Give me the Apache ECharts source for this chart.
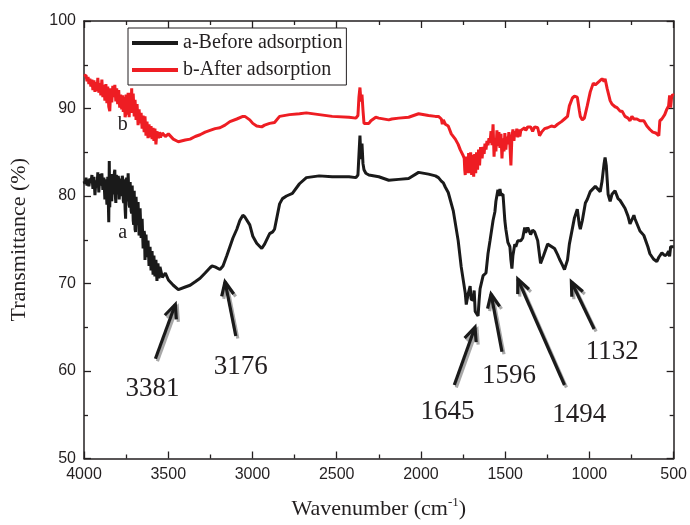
<!DOCTYPE html>
<html>
<head>
<meta charset="utf-8">
<style>
  html, body { margin: 0; padding: 0; background: #fff; }
  #chart { width: 690px; height: 525px; }
</style>
<script src="https://cdn.jsdelivr.net/npm/echarts@6/dist/echarts.min.js"></script>
</head>
<body>
<div id="chart"></div>
<script>
// FTIR spectra: [wavenumber (cm-1), transmittance (%)]
const spectrumBefore = [
  [4000,81.7],[3994,81.4],[3988,82.1],[3982,81.2],[3976,81.9],[3971,81.1],[3965,82.0],[3959,81.5],[3953,82.4],[3947,80.8],
  [3941,82.2],[3935,80.1],[3929,81.8],[3923,81.0],[3918,82.7],[3912,80.4],[3906,82.5],[3900,81.2],[3894,82.6],[3888,80.7],
  [3882,82.1],[3876,79.6],[3870,81.9],[3864,79.0],[3859,82.2],[3853,77.0],[3850,84.0],[3847,78.7],
  [3844,82.3],[3841,82.0],[3838,80.0],[3835,79.4],[3832,82.5],[3829,82.3],[3826,80.6],[3823,80.2],[3820,82.6],[3817,83.0],
  [3814,80.0],[3811,79.2],[3808,82.4],[3806,82.1],[3803,80.2],[3800,80.5],[3797,82.3],[3794,81.9],[3791,79.6],[3788,79.8],
  [3785,82.0],[3782,81.8],[3779,80.0],[3776,80.3],[3773,82.3],[3770,82.0],[3767,79.5],[3764,79.2],[3761,81.9],[3758,81.7],
  [3756,78.5],[3753,77.4],[3750,81.5],[3747,82.1],[3744,79.4],[3741,79.7],[3738,82.6],[3735,82.5],[3732,79.0],[3729,78.7],
  [3726,81.6],[3723,81.4],[3720,78.3],[3717,78.0],[3714,81.2],[3711,81.0],[3708,77.2],[3705,76.7],[3702,80.6],[3700,80.4],
  [3697,76.2],[3694,75.9],[3691,79.9],[3688,79.7],[3685,76.7],[3682,77.0],[3679,79.3],[3676,79.1],[3673,75.5],[3670,75.8],
  [3667,78.6],[3664,78.4],[3661,75.2],[3658,75.5],[3655,77.4],[3652,77.2],[3649,74.0],[3646,74.2],[3643,76.0],[3641,75.7],
  [3638,72.7],[3635,72.9],[3632,75.6],[3629,75.4],[3626,73.0],[3623,73.2],[3620,74.9],[3617,74.7],[3614,72.0],[3611,72.2],
  [3608,74.2],[3605,74.0],[3602,71.5],[3599,71.7],[3596,73.7],[3593,73.5],[3590,71.0],[3588,71.2],[3585,73.2],[3582,73.0],
  [3579,70.8],[3576,71.0],[3573,72.7],[3570,72.5],[3567,70.3],[3564,70.5],[3561,72.3],[3558,72.1],[3555,70.6],[3552,70.8],
  [3549,71.9],[3546,71.7],[3535,70.7],
  [3517,71.2],[3499,70.4],[3470,69.8],[3440,69.3],[3399,69.6],[3370,69.8],[3340,70.2],[3311,70.6],[3281,71.2],[3252,71.8],
  [3240,72.0],[3222,71.9],[3193,71.6],[3175,72.0],[3152,73.2],[3116,75.2],[3093,76.2],[3075,77.2],[3057,77.8],[3045,77.6],
  [3016,76.7],[2998,75.4],[2975,74.6],[2945,74.0],[2928,74.5],[2898,75.7],[2880,75.9],[2869,76.2],[2839,79.1],[2822,79.7],
  [2798,80.0],[2763,80.3],[2721,81.4],[2680,82.1],[2604,82.3],[2527,82.2],[2427,82.2],[2386,82.1],[2374,82.4],[2368,84.7],
  [2362,86.9],[2356,84.2],[2350,86.0],[2344,83.7],[2338,83.0],[2327,82.6],[2309,82.4],[2250,82.2],[2191,81.8],[2132,81.9],
  [2073,82.0],[2014,82.7],[1955,82.5],[1914,82.3],[1896,82.1],[1879,81.7],[1867,81.5],[1855,81.0],[1838,80.4],[1808,78.3],
  [1779,74.9],[1761,71.9],[1737,68.9],[1731,67.6],[1720,68.8],[1708,69.7],[1702,68.2],[1690,68.1],[1684,69.2],[1678,66.8],
  [1673,66.6],[1661,66.3],[1655,68.0],[1649,69.4],[1643,69.2],[1631,70.9],[1620,70.7],[1614,71.2],[1602,73.4],[1590,74.9],
  [1572,77.2],[1561,78.2],[1555,79.4],[1543,80.7],[1537,80.0],[1531,80.8],[1525,80.1],[1513,80.2],[1502,77.2],[1496,76.2],
  [1484,74.7],[1472,74.2],[1466,72.7],[1460,71.7],[1454,73.2],[1443,74.5],[1437,74.2],[1425,74.9],[1407,74.9],[1396,75.2],
  [1384,76.4],[1378,75.8],[1366,76.4],[1349,75.6],[1337,76.1],[1325,75.9],[1307,74.9],[1290,72.3],[1272,73.2],[1248,74.5],
  [1237,74.6],[1207,74.0],[1189,73.3],[1178,72.8],[1160,72.1],[1148,71.6],[1142,71.5],[1130,72.7],[1119,74.5],[1113,75.1],
  [1089,77.5],[1072,78.5],[1060,76.7],[1054,76.2],[1042,77.2],[1024,79.2],[1013,79.6],[995,80.5],[965,81.1],[954,81.1],
  [936,80.5],[925,81.7],[913,83.7],[907,84.4],[900,83.5],[889,80.2],[877,79.4],[866,80.2],[848,80.6],[830,79.7],
  [818,79.5],[789,78.6],[771,77.7],[759,76.8],[748,77.0],[736,77.8],[730,77.4],[700,76.0],[677,75.5],[653,74.2],
  [641,73.4],[620,72.8],[600,72.5],[588,73.0],[582,72.9],[570,73.5],[553,73.2],[541,73.3],[530,73.7],[524,73.1],
  [518,74.2],[512,74.3],[500,74.2]
];

const spectrumAfter = [
  [4000,93.7],[3994,93.5],[3988,93.8],[3982,93.1],[3976,93.6],[3971,92.8],[3965,93.4],[3959,92.5],[3953,93.3],[3947,92.1],
  [3941,93.2],[3935,91.9],[3929,93.0],[3923,92.0],[3918,93.5],[3912,91.8],[3906,92.9],[3900,91.5],[3894,93.3],[3888,91.3],
  [3882,92.7],[3876,90.9],[3870,92.8],[3864,90.6],[3859,92.5],[3853,90.2],[3847,89.7],[3841,92.3],[3835,90.7],[3829,92.6],
  [3823,91.3],[3817,92.7],[3811,90.8],[3806,92.3],[3800,90.5],[3794,92.1],[3788,90.1],[3782,91.6],[3776,89.9],[3770,91.5],
  [3767,89.6],[3764,89.8],[3761,91.3],[3758,91.1],[3756,89.0],[3753,89.3],[3750,91.6],[3747,91.8],[3744,89.3],[3741,89.5],
  [3738,91.8],[3735,91.6],[3732,89.0],[3729,89.2],[3726,91.8],[3723,92.0],[3720,90.0],[3717,92.3],[3714,89.5],[3711,89.7],
  [3708,91.7],[3705,91.5],[3702,89.1],[3700,89.3],[3697,91.0],[3694,90.8],[3691,88.7],[3688,88.9],[3685,90.5],[3682,90.3],
  [3679,88.1],[3676,88.3],[3673,89.9],[3670,89.7],[3667,88.3],[3664,88.5],[3661,89.5],[3658,89.3],[3655,87.7],[3652,87.9],
  [3649,89.2],[3646,89.0],[3643,87.3],[3641,87.5],[3638,89.1],[3635,88.9],[3632,86.9],[3629,87.1],[3626,88.5],[3623,88.3],
  [3620,86.6],[3617,86.8],[3614,88.2],[3611,88.0],[3608,86.7],[3605,86.9],[3602,88.0],[3599,87.8],[3596,86.5],[3593,86.7],
  [3590,87.8],[3588,87.6],[3585,86.3],[3582,86.5],[3579,87.7],[3576,87.5],[3573,85.9],[3570,85.7],[3567,87.4],[3564,87.2],
  [3558,86.6],[3552,87.3],[3546,86.7],[3535,87.2],[3517,86.8],
  [3499,87.1],[3470,86.5],[3440,86.2],[3399,86.4],[3370,86.5],[3340,86.8],[3311,87.0],[3281,87.3],[3252,87.5],[3222,87.7],
  [3193,87.8],[3163,88.1],[3134,88.5],[3093,88.8],[3057,89.1],[3045,89.1],[3016,88.7],[2998,88.3],[2975,88.0],[2945,87.9],
  [2928,88.1],[2898,88.3],[2869,88.4],[2839,89.1],[2780,89.3],[2721,89.4],[2680,89.5],[2604,89.3],[2527,89.1],[2427,89.0],
  [2386,88.9],[2374,89.2],[2368,91.3],[2362,92.4],[2356,90.8],[2350,91.6],[2344,89.8],[2338,88.3],[2327,88.2],[2309,88.3],
  [2297,88.6],[2268,89.0],[2250,88.9],[2191,88.7],[2173,88.8],[2132,88.9],[2073,89.0],[2014,89.4],[1955,89.2],[1914,89.1],
  [1896,89.1],[1879,88.8],[1873,88.2],[1867,88.7],[1855,88.2],[1838,88.0],[1820,87.1],[1796,86.5],[1779,85.9],[1767,85.3],
  [1749,84.6],[1743,84.3],[1740,83.0],[1737,82.4],[1734,84.5],[1731,84.3],[1728,82.6],[1725,84.2],[1720,83.1],[1717,84.9],
  [1714,84.8],[1711,82.6],[1708,82.8],[1705,85.0],[1702,84.9],[1699,82.4],[1696,82.5],[1693,84.7],[1690,84.5],[1687,82.2],
  [1684,82.3],[1681,84.8],[1678,84.6],[1675,82.6],[1673,82.8],[1670,85.0],[1667,84.9],[1664,83.0],[1661,83.1],[1658,85.3],
  [1655,85.2],[1652,83.5],[1649,83.6],[1646,85.6],[1643,85.5],[1637,84.3],[1631,85.6],
  [1625,84.8],[1620,86.0],[1614,85.3],[1608,86.3],[1602,85.8],[1596,86.6],[1590,86.1],[1584,87.4],[1578,85.8],[1572,88.2],
  [1566,84.5],[1561,86.6],[1555,85.1],[1549,87.5],[1543,85.7],[1537,87.3],[1531,85.5],[1525,87.1],[1519,84.3],[1513,86.6],
  [1507,85.1],[1502,87.2],[1496,85.3],[1490,86.8],[1484,85.9],[1478,87.3],[1472,85.8],[1466,83.5],[1460,86.8],[1454,87.6],
  [1448,86.3],[1443,87.4],[1437,86.8],[1431,87.7],[1425,86.7],[1419,87.6],[1413,86.8],[1407,87.5],[1396,87.3],[1384,87.8],
  [1378,87.5],[1366,87.9],[1349,87.9],[1337,87.4],[1325,87.9],[1307,87.8],[1296,86.9],[1284,87.3],[1266,87.7],[1248,87.8],
  [1225,88.0],[1207,87.9],[1189,88.2],[1166,88.5],[1148,88.8],[1130,89.1],[1119,90.3],[1101,91.2],[1089,91.4],[1072,91.3],
  [1060,89.8],[1054,89.1],[1042,88.7],[1030,88.9],[1013,90.3],[995,91.9],[977,92.9],[965,92.7],[954,92.8],[942,93.1],
  [925,93.4],[913,93.1],[907,93.4],[895,92.3],[877,90.9],[866,90.5],[848,90.2],[836,90.1],[818,89.7],[806,89.7],
  [789,89.1],[771,88.9],[759,88.6],[748,89.1],[736,88.8],[718,88.8],[700,88.6],[677,88.6],[659,88.0],[641,87.6],
  [624,87.3],[606,87.2],[600,87.1],[588,86.9],[582,88.6],[570,88.8],[553,89.3],[541,89.9],[530,90.3],[524,91.5],
  [518,90.1],[512,91.3],[506,91.6],[500,91.5]
];

const seriesNames = ['a-Before adsorption', 'b-After adsorption'];
const seriesColors = ['#1a1a1a', '#ee1d23'];

// Band assignments: label text, arrow tip, arrow tail, label position (data units)
const peakLabels = ['3381', '3176', '1645', '1596', '1494', '1132'];
const arrowTips  = [[3458, 67.6], [3163, 70.2], [1679, 65.0], [1584, 68.8], [1425, 70.5], [1107, 70.2]];
const arrowTails = [[3576, 61.4], [3099, 64.0], [1802, 58.4], [1519, 62.2], [1148, 58.4], [972, 64.8]];
const labelSpots = [[3593, 58.0], [3069, 60.5], [1843, 55.3], [1478, 59.4], [1060, 55.0], [865, 62.2]];

// Curve tags next to each trace
const curveTags = ['a', 'b'];
const curveTagSpots = [[3770, 75.8], [3770, 88.2]];

const xTicks = { min: 500, max: 4000, interval: 500 };
const yTicks = { min: 50, max: 100, interval: 10 };

const serif = '"Liberation Serif", "Times New Roman", serif';
const sans = '"Liberation Sans", Arial, sans-serif';
const ink = '#231f20';

const chart = echarts.init(document.getElementById('chart'), null, { renderer: 'canvas' });

function axisCommon(extra) {
  return Object.assign({
    type: 'value',
    axisLine: { show: true, onZero: false, lineStyle: { color: ink, width: 1.5 } },
    axisTick: { show: true, inside: true, length: 7, lineStyle: { color: ink, width: 1.3 } },
    minorTick: { show: true, splitNumber: 2, length: 4, lineStyle: { color: ink, width: 1.3 } },
    splitLine: { show: false },
    minorSplitLine: { show: false }
  }, extra);
}

const arrowData = arrowTips.map((t, i) => [t[0], t[1], arrowTails[i][0], arrowTails[i][1]]);

function renderArrow(params, api) {
  const tip = api.coord([api.value(0), api.value(1)]);
  const tail = api.coord([api.value(2), api.value(3)]);
  const ang = Math.atan2(tip[1] - tail[1], tip[0] - tail[0]);
  const L = 15, spread = 0.42;
  const arm1 = [tip[0] - L * Math.cos(ang - spread), tip[1] - L * Math.sin(ang - spread)];
  const arm2 = [tip[0] - L * Math.cos(ang + spread), tip[1] - L * Math.sin(ang + spread)];
  const build = (dx, dy, color) => ([
    { type: 'line', shape: { x1: tail[0] + dx, y1: tail[1] + dy, x2: tip[0] + dx, y2: tip[1] + dy },
      style: { stroke: color, lineWidth: 3.2, lineCap: 'butt' } },
    { type: 'polyline', shape: { points: [[arm1[0] + dx, arm1[1] + dy], [tip[0] + dx, tip[1] + dy], [arm2[0] + dx, arm2[1] + dy]] },
      style: { stroke: color, fill: null, lineWidth: 3.2, lineJoin: 'miter' } }
  ]);
  return { type: 'group', children: build(2, 2.5, '#a8a8a8').concat(build(0, 0, '#1a1a1a')) };
}

function renderText(list, size) {
  return function (params, api) {
    const p = api.coord([api.value(0), api.value(1)]);
    return {
      type: 'text', x: p[0], y: p[1],
      style: { text: list[params.dataIndex], fill: ink, font: size + 'px ' + serif, align: 'center', verticalAlign: 'middle' }
    };
  };
}

chart.setOption({
  animation: false,
  backgroundColor: '#fff',
  grid: { left: 83, right: 13, top: 21, bottom: 65 },
  legend: {
    data: seriesNames,
    orient: 'vertical',
    left: 128, top: 28,
    padding: [5, 4, 5, 4],
    itemGap: 7,
    itemWidth: 46, itemHeight: 4,
    itemTextGap: 1,
    icon: 'rect',
    borderColor: ink, borderWidth: 1,
    textStyle: { fontFamily: serif, fontSize: 20, color: ink }
  },
  xAxis: [
    axisCommon({
      min: xTicks.min, max: xTicks.max, interval: xTicks.interval, inverse: true, position: 'bottom',
      name: 'Wavenumber (cm{sup|-1})', nameLocation: 'middle', nameGap: 38,
      nameTextStyle: { fontFamily: serif, fontSize: 22, color: ink,
        rich: { sup: { fontFamily: serif, fontSize: 13, color: ink, verticalAlign: 'top', padding: [0, 0, 12, 0] } } },
      axisLabel: { fontFamily: sans, fontSize: 16, color: ink, margin: 8, formatter: v => String(v) }
    }),
    axisCommon({
      min: xTicks.min, max: xTicks.max, interval: xTicks.interval, inverse: true, position: 'top',
      axisLabel: { show: false }
    })
  ],
  yAxis: [
    axisCommon({
      min: yTicks.min, max: yTicks.max, interval: yTicks.interval, position: 'left',
      name: 'Transmittance (%)', nameLocation: 'middle', nameGap: 54, nameRotate: 90,
      nameTextStyle: { fontFamily: serif, fontSize: 22, color: ink },
      axisLabel: { fontFamily: sans, fontSize: 16, color: ink, margin: 8, formatter: v => String(v) }
    }),
    axisCommon({
      min: yTicks.min, max: yTicks.max, interval: yTicks.interval, position: 'right',
      axisLabel: { show: false }
    })
  ],
  series: [
    {
      name: seriesNames[0], type: 'line', data: spectrumBefore, symbol: 'none',
      color: seriesColors[0], lineStyle: { color: seriesColors[0], width: 3 }, z: 3
    },
    {
      name: seriesNames[1], type: 'line', data: spectrumAfter, symbol: 'none',
      color: seriesColors[1], lineStyle: { color: seriesColors[1], width: 3 }, z: 3
    },
    {
      type: 'custom', name: 'arrows', data: arrowData, renderItem: renderArrow, silent: true, clip: false, z: 4
    },
    {
      type: 'custom', name: 'band labels', data: labelSpots, renderItem: renderText(peakLabels, 27), silent: true, clip: false, z: 4
    },
    {
      type: 'custom', name: 'curve tags', data: curveTagSpots, renderItem: renderText(curveTags, 20), silent: true, clip: false, z: 4
    }
  ]
});
</script>
</body>
</html>
